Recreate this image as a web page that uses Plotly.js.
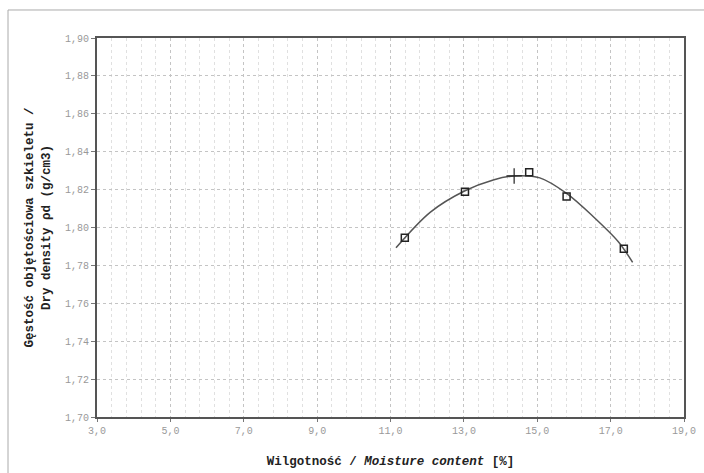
<!DOCTYPE html>
<html>
<head>
<meta charset="utf-8">
<script src="https://cdn.plot.ly/plotly-3.0.1.min.js"></script>
<style>html,body{margin:0;padding:0;background:#fff;}</style>
</head>
<body>
<div id="chart" style="width:704px;height:473px;"></div>
<script>
// Measured points (moisture %, dry density g/cm3)
var moisture = [11.39, 13.03, 14.78, 15.80, 17.36];
var density  = [1.7946, 1.8189, 1.8291, 1.8163, 1.7888];
// Maximum (optimum) point
var optMoisture = [14.37];
var optDensity  = [1.8272];
// Fitted curve
var curveX = [11.15, 12.08, 13.03, 13.80, 14.37, 15.07, 15.80, 16.53, 17.21, 17.60];
var curveY = [1.7893, 1.8080, 1.8194, 1.8251, 1.8272, 1.8262, 1.8180, 1.8057, 1.7925, 1.7816];

var xTitle = "Wilgotność / <i>Moisture content</i> [%]";
var yTitle = "Gęstość objętościowa szkieletu /<br>Dry density ρd (g/cm3)";

var mono = "'Liberation Mono', 'Courier New', monospace";

var traces = [
  {x: curveX, y: curveY, mode: 'lines', line: {color: '#555', width: 1.5, shape: 'spline', smoothing: 0.9}, hoverinfo: 'skip', showlegend: false},
  {x: moisture, y: density, mode: 'markers', marker: {symbol: 'square-open', size: 7, color: '#222', line: {width: 1.5, color: '#222'}}, showlegend: false},
  {x: optMoisture, y: optDensity, mode: 'markers', marker: {symbol: 'cross-thin-open', size: 11, color: '#222', line: {width: 1.2, color: '#222'}}, showlegend: false}
];

var layout = {
  width: 704, height: 473,
  margin: {l: 97, r: 20, t: 38, b: 56},
  paper_bgcolor: '#fff', plot_bgcolor: '#fff',
  separators: ', ',
  showlegend: false,
  xaxis: {
    range: [3, 19], dtick: 2, tick0: 3, tickformat: '.1f',
    showgrid: true, gridcolor: '#c4c4c4', griddash: 'dot', gridwidth: 1,
    minor: {dtick: 0.4, tick0: 3, showgrid: true, gridcolor: '#e0e0e0', griddash: 'dot', gridwidth: 1},
    showline: true, linecolor: '#555', linewidth: 2, mirror: true,
    ticks: 'outside', ticklen: 3, tickcolor: '#777',
    zeroline: false,
    tickfont: {family: mono, size: 10, color: '#999'},
    title: {text: xTitle, font: {family: mono, size: 12.5, color: '#222', weight: 'bold'}, standoff: 20}
  },
  yaxis: {
    range: [1.70, 1.90], dtick: 0.02, tick0: 1.70, tickformat: '.2f',
    showgrid: true, gridcolor: '#c4c4c4', griddash: 'dot', gridwidth: 1,
    showline: true, linecolor: '#555', linewidth: 2, mirror: true,
    ticks: 'outside', ticklen: 4, tickcolor: '#777',
    zeroline: false,
    tickfont: {family: mono, size: 10, color: '#999'},
    title: {text: yTitle, font: {family: mono, size: 12.5, color: '#222', weight: 'bold'}, standoff: 12}
  },
  shapes: [
    {type: 'rect', xref: 'paper', yref: 'paper', x0: -0.1516, x1: 1.05, y0: -0.2, y1: 1.0739,
     line: {color: '#aaa', width: 1}, fillcolor: 'rgba(0,0,0,0)', layer: 'below'}
  ]
};

Plotly.newPlot('chart', traces, layout, {displayModeBar: false, staticPlot: true});
</script>
</body>
</html>
